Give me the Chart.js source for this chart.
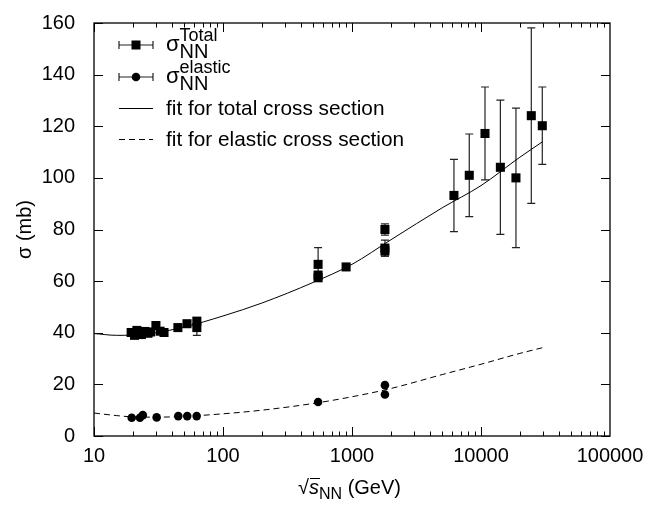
<!DOCTYPE html>
<html>
<head>
<meta charset="utf-8">
<script src="https://cdn.jsdelivr.net/npm/chart.js@4.4.0/dist/chart.umd.min.js"></script>
<style>
  html, body { margin: 0; padding: 0; background: #fff; }
  #wrap { width: 649px; height: 505px; }
</style>
</head>
<body>
<div id="wrap"><canvas id="xsec" width="649" height="505"></canvas></div>
<script>
// total cross section points (sqrt(s) in GeV, sigma in mb)
const totalX = [19.4, 20.6, 21.5, 23.3, 24.8, 26.2, 27.4, 30.2, 32.5, 34.9, 44.7, 52.6, 62.7, 62.7, 546, 546, 546, 900, 1800, 1800, 1800, 6170, 8110, 10740, 14130, 18660, 24540, 29860];
const totalY = [40.1, 39.0, 40.9, 39.3, 40.5, 39.8, 40.3, 42.8, 40.6, 40.1, 42.0, 43.5, 44.5, 42.0, 61.3, 62.3, 66.5, 65.5, 80.0, 72.8, 71.7, 93.2, 101.0, 117.2, 104.1, 100.0, 124.1, 120.2];
const totalErr = [0.5, 0.5, 0.5, 0.5, 0.5, 0.5, 0.5, 0.5, 0.5, 0.5, 0.5, 0.5, 0.5, 3.0, 0.9, 1.5, 6.5, 0.7, 2.2, 3.1, 2.0, 14, 16, 18, 26, 27, 34, 15];

// elastic cross section points
const elasticX = [19.6, 22.7, 23.9, 30.6, 45.0, 52.8, 62.5, 546, 1800, 1800];
const elasticY = [7.05, 7.05, 8.1, 7.2, 7.7, 7.7, 7.7, 13.2, 19.7, 16.1];

// fit curves
const fitX = [10, 15, 20, 30, 50, 100, 200, 500, 1000, 2000, 5000, 10000, 20000, 30000];
const fitTotal = [39.7, 39.0, 39.1, 40.0, 42.2, 46.5, 51.5, 59.5, 66.5, 76.0, 88.4, 97.0, 108.0, 114.0];
const fitElastic = [8.9, 7.9, 7.4, 7.3, 7.6, 8.6, 10.0, 12.6, 15.2, 18.4, 23.8, 27.8, 32.0, 34.2];

const xTicks = [10, 100, 1000, 10000, 100000];
const yTicks = [0, 20, 40, 60, 80, 100, 120, 140, 160];

const FONT = '"Liberation Sans", Arial, sans-serif';

function pts(xs, ys) { return xs.map((x, i) => ({ x: x, y: ys[i] })); }

// draws frame, inward ticks on all four sides, error bars, axis titles and legend
const decorations = {
  id: 'decorations',
  beforeDatasetsDraw(chart) {
    const ctx = chart.ctx, xs = chart.scales.x, ys = chart.scales.y;
    ctx.save();
    ctx.strokeStyle = '#222';
    ctx.lineWidth = 1.2;
    totalX.forEach((x, i) => {
      const e = totalErr[i];
      if (e < 1) return;
      const px = xs.getPixelForValue(x);
      const top = ys.getPixelForValue(totalY[i] + e);
      const bot = ys.getPixelForValue(totalY[i] - e);
      ctx.beginPath();
      ctx.moveTo(px, top); ctx.lineTo(px, bot);
      ctx.moveTo(px - 4, top); ctx.lineTo(px + 4, top);
      ctx.moveTo(px - 4, bot); ctx.lineTo(px + 4, bot);
      ctx.stroke();
    });
    ctx.restore();
  },
  afterDraw(chart) {
    const ctx = chart.ctx, a = chart.chartArea, xs = chart.scales.x, ys = chart.scales.y;
    ctx.save();
    ctx.strokeStyle = '#000';
    ctx.lineWidth = 1.3;
    ctx.strokeRect(a.left, a.top, a.right - a.left, a.bottom - a.top);

    ctx.lineWidth = 1;
    ctx.beginPath();
    yTicks.forEach(v => {
      const py = Math.round(ys.getPixelForValue(v)) + 0.5;
      ctx.moveTo(a.left, py); ctx.lineTo(a.left + 9, py);
      ctx.moveTo(a.right, py); ctx.lineTo(a.right - 9, py);
    });
    for (let d = 10; d < 100000; d *= 10) {
      for (let m = 1; m < 10; m++) {
        const px = Math.round(xs.getPixelForValue(d * m)) + 0.5;
        const len = m === 1 ? 9 : 4.5;
        ctx.moveTo(px, a.bottom); ctx.lineTo(px, a.bottom - len);
        ctx.moveTo(px, a.top); ctx.lineTo(px, a.top + len);
      }
    }
    ctx.stroke();

    // y title
    ctx.fillStyle = '#000';
    ctx.font = '20px ' + FONT;
    ctx.textAlign = 'center';
    ctx.textBaseline = 'middle';
    ctx.save();
    ctx.translate(25, (a.top + a.bottom) / 2);
    ctx.rotate(-Math.PI / 2);
    ctx.fillText('\u03c3 (mb)', 0, 0);
    ctx.restore();

    // x title: sqrt(s)_NN (GeV)
    ctx.textAlign = 'left';
    ctx.textBaseline = 'alphabetic';
    let x = 298;
    const base = 494;
    ctx.font = '20px ' + FONT;
    ctx.fillText('\u221a', x, base);
    x += ctx.measureText('\u221a').width;
    ctx.font = 'italic 20px ' + FONT;
    ctx.fillText('s', x, base);
    const sw = ctx.measureText('s').width;
    ctx.beginPath();
    ctx.moveTo(x + 1, base - 15.5); ctx.lineTo(x + sw + 1, base - 15.5);
    ctx.lineWidth = 1; ctx.stroke();
    x += sw;
    ctx.font = '16px ' + FONT;
    ctx.fillText('NN', x, base + 5);
    x += ctx.measureText('NN').width;
    ctx.font = '20px ' + FONT;
    ctx.fillText(' (GeV)', x, base);

    // legend
    const lx0 = 119, lx1 = 153, tx = 166;
    ctx.strokeStyle = '#222';
    ctx.lineWidth = 1.2;
    function hbar(py) {
      ctx.beginPath();
      ctx.moveTo(lx0, py); ctx.lineTo(lx1, py);
      ctx.moveTo(lx0, py - 4); ctx.lineTo(lx0, py + 4);
      ctx.moveTo(lx1, py - 4); ctx.lineTo(lx1, py + 4);
      ctx.stroke();
    }
    function sigma(py, sup) {
      ctx.font = '22px ' + FONT;
      ctx.fillText('\u03c3', tx, py + 6);
      const w = ctx.measureText('\u03c3').width;
      ctx.font = '18px ' + FONT;
      ctx.fillText(sup, tx + w, py - 4);
      ctx.font = '20px ' + FONT;
      ctx.fillText('NN', tx + w, py + 13);
    }
    hbar(45);
    ctx.fillStyle = '#000';
    ctx.fillRect(136 - 4.5, 45 - 4.5, 9, 9);
    sigma(45, 'Total');

    hbar(77);
    ctx.beginPath(); ctx.arc(136, 77, 4.3, 0, 2 * Math.PI); ctx.fill();
    sigma(77, 'elastic');

    ctx.strokeStyle = '#000';
    ctx.lineWidth = 1;
    ctx.beginPath(); ctx.moveTo(lx0, 108.5); ctx.lineTo(lx1, 108.5); ctx.stroke();
    ctx.font = '20.8px ' + FONT;
    ctx.fillText('fit for total cross section', tx, 115);

    ctx.setLineDash([6, 4]);
    ctx.beginPath(); ctx.moveTo(lx0, 139.5); ctx.lineTo(lx1, 139.5); ctx.stroke();
    ctx.setLineDash([]);
    ctx.fillText('fit for elastic cross section', tx, 146);
    ctx.restore();
  }
};

new Chart(document.getElementById('xsec').getContext('2d'), {
  data: {
    datasets: [
      {
        type: 'line', label: 'fit total', data: pts(fitX, fitTotal),
        borderColor: '#000', borderWidth: 1, pointRadius: 0, fill: false,
        cubicInterpolationMode: 'monotone'
      },
      {
        type: 'line', label: 'fit elastic', data: pts(fitX, fitElastic),
        borderColor: '#000', borderWidth: 1, borderDash: [6, 4], pointRadius: 0, fill: false,
        cubicInterpolationMode: 'monotone'
      },
      {
        type: 'scatter', label: 'total', data: pts(totalX, totalY),
        pointStyle: 'rect', pointRadius: 6.4, backgroundColor: '#000', borderColor: '#000', borderWidth: 0
      },
      {
        type: 'scatter', label: 'elastic', data: pts(elasticX, elasticY),
        pointStyle: 'circle', pointRadius: 4.3, backgroundColor: '#000', borderColor: '#000', borderWidth: 0
      }
    ]
  },
  options: {
    responsive: false,
    animation: false,
    events: [],
    layout: { padding: { top: 21, right: 39, left: 0, bottom: 0 } },
    plugins: { legend: { display: false }, tooltip: { enabled: false } },
    scales: {
      x: {
        type: 'logarithmic', min: 10, max: 100000,
        grid: { display: false }, border: { display: false },
        afterBuildTicks: s => { s.ticks = xTicks.map(v => ({ value: v })); },
        afterFit: s => { s.height = 69; },
        ticks: {
          autoSkip: false, maxRotation: 0, padding: 0, color: '#000',
          font: { family: FONT, size: 20 },
          callback: v => String(v)
        }
      },
      y: {
        min: 0, max: 160,
        grid: { display: false }, border: { display: false },
        afterBuildTicks: s => { s.ticks = yTicks.map(v => ({ value: v })); },
        afterFit: s => { s.width = 94; },
        ticks: {
          padding: 11, color: '#000',
          font: { family: FONT, size: 20 }
        }
      }
    }
  },
  plugins: [decorations]
});
</script>
</body>
</html>
